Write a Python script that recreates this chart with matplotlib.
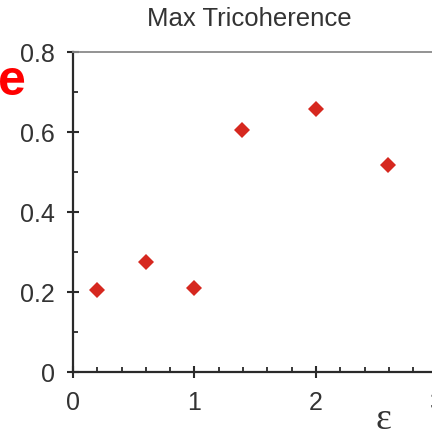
import matplotlib
matplotlib.use("Agg")
import matplotlib.pyplot as plt
from matplotlib.ticker import MultipleLocator, FixedLocator

# Max tricoherence versus coupling strength epsilon
epsilon = [0.2, 0.6, 1.0, 1.39, 2.0, 2.59]
max_tricoherence = [0.205, 0.276, 0.21, 0.606, 0.657, 0.517]

x_ticks = [0, 1, 2, 3]
x_tick_labels = ["0", "1", "2", "3"]
y_ticks = [0, 0.2, 0.4, 0.6, 0.8]
y_tick_labels = ["0", "0.2", "0.4", "0.6", "0.8"]

W, H, DPI = 432, 439, 100
fig = plt.figure(figsize=(W / DPI, H / DPI), dpi=DPI)
plt.rcParams["font.family"] = ["Liberation Sans", "DejaVu Sans"]

left_px, right_px, top_px, bottom_px = 73, 437.5, 53, 373
ax = fig.add_axes([left_px / W, 1 - bottom_px / H,
                   (right_px - left_px) / W, (bottom_px - top_px) / H])

ax.plot(epsilon, max_tricoherence, linestyle="none", marker="D",
        markersize=8, color="#d6281f", markeredgewidth=0)

ax.set_xlim(0, 3)
ax.set_ylim(0, 0.8)

ax.xaxis.set_major_locator(FixedLocator(x_ticks))
ax.set_xticklabels(x_tick_labels)
ax.xaxis.set_minor_locator(MultipleLocator(0.2))
ax.yaxis.set_major_locator(FixedLocator(y_ticks))
ax.set_yticklabels(y_tick_labels)
ax.yaxis.set_minor_locator(MultipleLocator(0.1))

dark = "#2a2a2a"
for side in ("left", "bottom"):
    ax.spines[side].set_color(dark)
    ax.spines[side].set_linewidth(1.6)
ax.spines["top"].set_color("#8a8a8a")
ax.spines["top"].set_linewidth(1.3)
ax.spines["right"].set_visible(False)

ax.tick_params(which="major", direction="inout", length=8, width=1.5,
               color=dark, labelsize=18, labelcolor="#333333", pad=9)
ax.tick_params(which="minor", direction="in", length=3.8, width=1.3,
               color=dark)
ax.tick_params(top=False, right=False, which="both")

# Title, axis symbol and panel letter
fig.text(249 / W, 1 - 19 / H, "Max Tricoherence", ha="center", va="center",
         fontsize=18.5, color="#333333")
fig.text(383 / W, 1 - 420 / H, "ε", ha="center", va="center",
         fontsize=27, color="#333333", family=["Liberation Serif", "DejaVu Serif"])
fig.text(12 / W, 1 - 82 / H, "e", ha="center", va="center",
         fontsize=36, fontweight="bold", color="#ff0000")

fig.savefig("out.png", dpi=DPI)
